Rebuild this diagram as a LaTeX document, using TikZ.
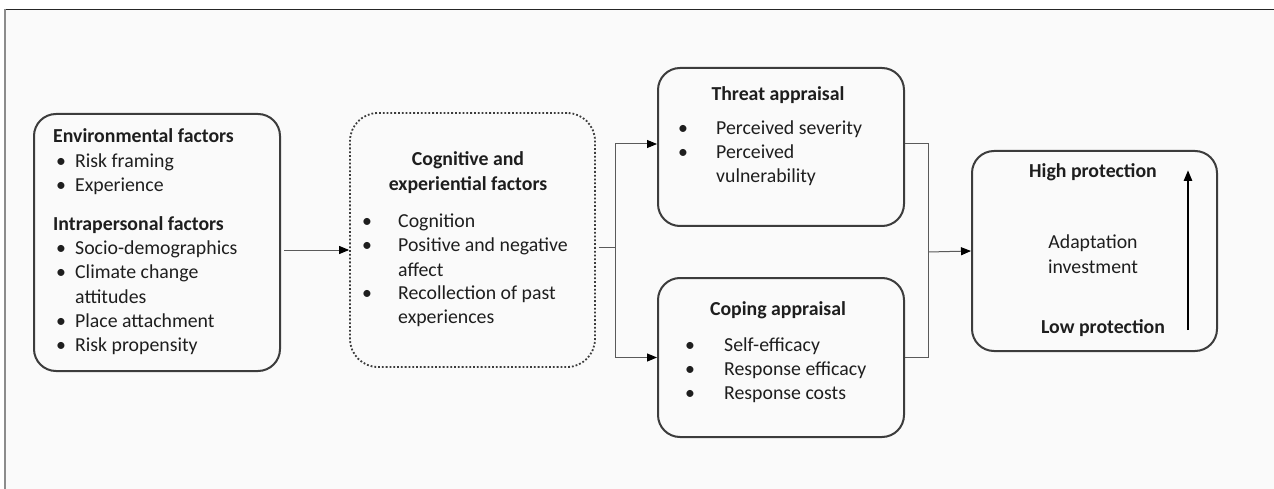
\documentclass[tikz,border=0pt]{standalone}
\usepackage{fontspec}
\setmainfont{Carlito}
\usetikzlibrary{arrows.meta,calc}
\definecolor{bgc}{HTML}{FAFAFA}
\definecolor{boxc}{HTML}{3C3C3C}
\definecolor{linec}{HTML}{5A5A5A}
\definecolor{txtc}{HTML}{1E1E1E}
\newcommand{\bl}[1]{\makebox[19pt][l]{\textbullet}#1}
\newcommand{\blw}[2]{\makebox[#1][l]{\textbullet}#2}
\begin{document}
\begin{tikzpicture}[x=1pt,y=-1pt,
  box/.style={draw=boxc,line width=2pt,rounded corners=22pt,inner sep=0pt},
  dotbox/.style={draw=boxc,line width=1.8pt,dotted,rounded corners=28pt,inner sep=0pt},
  txt/.style={inner sep=0pt,text=txtc,font=\fontsize{19.8}{24.2}\selectfont},
  conn/.style={draw=linec,line width=1pt},
  arr/.style={conn,-{Triangle[length=10pt,width=8pt,color=black]}}]
\useasboundingbox (0,0) rectangle (1274,489);
\fill[white] (0,0) rectangle (1274,489);
\fill[bgc] (5,9) rectangle (1274,489);
\draw[color=black!85,line width=1.6pt] (4,9.5) -- (1274,9.5);
\draw[color=black!45,line width=2pt] (5,9) -- (5,489);

% boxes
\node[box,minimum width=246pt,minimum height=257pt] (env) at (157,242.5) {};
\node[dotbox,minimum width=245pt,minimum height=254pt] (cog) at (472.5,240) {};
\node[box,minimum width=246pt,minimum height=158pt] (thr) at (781,147) {};
\node[box,minimum width=246pt,minimum height=159pt] (cop) at (781,357.5) {};
\node[box,minimum width=245pt,minimum height=200pt] (ada) at (1094.5,251) {};

% left text
\node[txt,anchor=base west] (envt) at (53,143) {\begin{tabular}[t]{@{}l@{}}
\textbf{Environmental factors}\\
\hspace{3pt}\bl{Risk framing}\\
\hspace{3pt}\bl{Experience}\\[15pt]
\textbf{Intrapersonal factors}\\
\hspace{3pt}\bl{Socio-demographics}\\
\hspace{3pt}\bl{Climate change}\\
\hspace{3pt}\hspace{19pt}attitudes\\
\hspace{3pt}\bl{Place attachment}\\
\hspace{3pt}\bl{Risk propensity}
\end{tabular}};

% cognitive text
\node[txt,anchor=base,align=center,font=\fontsize{19.8}{25}\selectfont\bfseries] (cogh) at (468,191) {Cognitive and\\experiential factors};
\node[txt,anchor=base west,font=\fontsize{19.8}{24}\selectfont] (cogl) at (362,228) {\begin{tabular}[t]{@{}l@{}}
\blw{36pt}{Cognition}\\
\blw{36pt}{Positive and negative}\\
\hspace{36pt}affect\\
\blw{36pt}{Recollection of past}\\
\hspace{36pt}experiences
\end{tabular}};

% threat text
\node[txt,anchor=base,font=\fontsize{19.8}{24}\selectfont\bfseries] (thrh) at (778,101) {Threat appraisal};
\node[txt,anchor=base west,font=\fontsize{19.8}{24}\selectfont] (thrl) at (678,135) {\begin{tabular}[t]{@{}l@{}}
\blw{38pt}{Perceived severity}\\
\blw{38pt}{Perceived}\\
\hspace{38pt}vulnerability
\end{tabular}};

% coping text
\node[txt,anchor=base,font=\fontsize{19.8}{24}\selectfont\bfseries] (coph) at (778,315) {Coping appraisal};
\node[txt,anchor=base west,font=\fontsize{19.8}{24}\selectfont] (copl) at (685,351) {\begin{tabular}[t]{@{}l@{}}
\blw{39pt}{Self-efficacy}\\
\blw{39pt}{Response efficacy}\\
\blw{39pt}{Response costs}
\end{tabular}};

% adaptation text
\node[txt,anchor=base,font=\fontsize{19.8}{24}\selectfont\bfseries] (high) at (1093,178) {High protection};
\node[txt,anchor=base,align=center,font=\fontsize{19.8}{25}\selectfont] (adat) at (1093,273) {Adaptation\\investment};
\node[txt,anchor=base,font=\fontsize{19.8}{24}\selectfont\bfseries] (low) at (1103,333) {Low protection};
\coordinate (upb) at (1188,330);
\coordinate (upt) at (1188,170);
\draw[line width=2.6pt,black,-{Triangle[length=11pt,width=8pt]}] (upb) -- (upt);

% connectors
\draw[arr] ([xshift=3pt,yshift=-7.5pt]env.east) -- ([yshift=-10pt]cog.west);
\coordinate (j1) at (615,247);
\draw[conn] ([xshift=3pt,yshift=-7pt]cog.east) -- (j1);
\draw[arr] (j1) |- ([yshift=3pt]thr.west);
\draw[arr] (j1) |- (cop.west);
\coordinate (j2) at (928,252);
\draw[conn] ([yshift=3pt]thr.east) -| (j2) |- (cop.east);
\draw[arr] (j2) -- (ada.west);
\end{tikzpicture}
\end{document}
